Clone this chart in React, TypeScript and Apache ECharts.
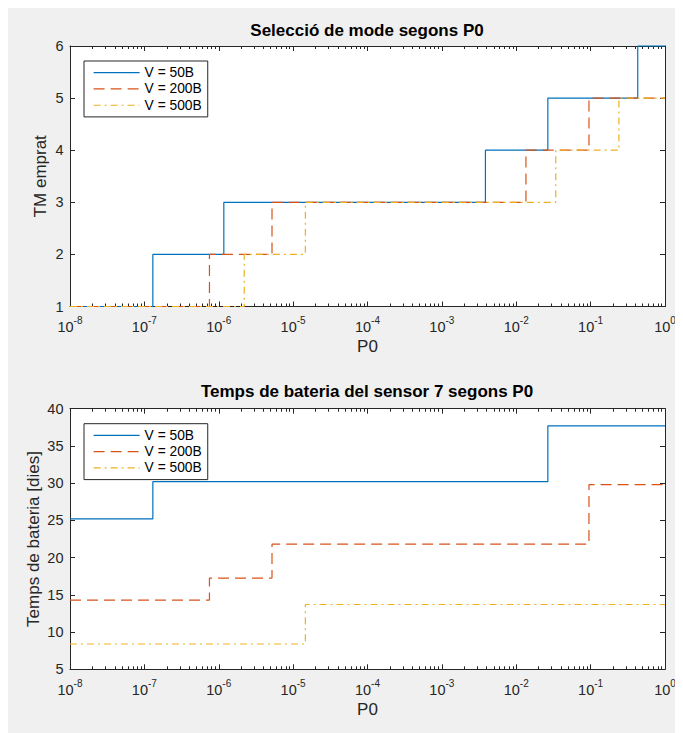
import React, { useEffect, useRef } from 'react';
import * as echarts from 'echarts';

// P0 range (log axis) and tick positions
const P0_MIN = 1e-8;
const P0_MAX = 1;
const decadeTicks = [1e-8, 1e-7, 1e-6, 1e-5, 1e-4, 1e-3, 1e-2, 1e-1, 1];
const minorMultipliers = [2, 3, 4, 5, 6, 7, 8, 9];

const legendNames = ['V = 50B', 'V = 200B', 'V = 500B'];
const lineColors = ['#0072BD', '#D95319', '#EDB120'];

// Mode selected (TM emprat) vs P0: P0 where each step happens, and the levels
const modeSteps50 = [1.3e-7, 1.17e-6, 3.85e-3, 0.0266, 0.43];
const modeLevels50 = [1, 2, 3, 4, 5, 6];
const modeSteps200 = [7.5e-7, 5.2e-6, 0.0135, 0.095];
const modeLevels200 = [1, 2, 3, 4, 5];
const modeSteps500 = [2.2e-6, 1.46e-5, 0.034, 0.24];
const modeLevels500 = [1, 2, 3, 4, 5];

// Battery lifetime of sensor 7 [days] vs P0
const batterySteps50 = [1.3e-7, 0.0266];
const batteryLevels50 = [25.2, 30.2, 37.7];
const batterySteps200 = [7.5e-7, 5.2e-6, 0.095];
const batteryLevels200 = [14.3, 17.25, 21.8, 29.8];
const batterySteps500 = [1.46e-5];
const batteryLevels500 = [8.4, 13.7];

const FONT = 'Liberation Sans, Arial, Helvetica, sans-serif';
const AXIS_COLOR = '#262626';

function stepPoints(steps: number[], levels: number[]): number[][] {
  const pts: number[][] = [[P0_MIN, levels[0]]];
  steps.forEach((s, i) => {
    pts.push([s, levels[i]]);
    pts.push([s, levels[i + 1]]);
  });
  pts.push([P0_MAX, levels[levels.length - 1]]);
  return pts;
}

const minorTicks: number[] = [];
decadeTicks.slice(0, -1).forEach((d) => {
  minorMultipliers.forEach((m) => minorTicks.push(m * d));
});

const lineStyles = [
  { type: 'solid' as const },
  { type: [11, 6] },
  { type: [7, 4, 2, 4] },
];

function seriesFor(grid: number, data: number[][][]) {
  return data.map((d, i) => ({
    type: 'line',
    name: legendNames[i],
    xAxisIndex: grid * 4,
    yAxisIndex: grid * 2,
    data: d,
    showSymbol: false,
    symbol: 'none',
    clip: false,
    lineStyle: { color: lineColors[i], width: 1.2, type: lineStyles[i].type },
    itemStyle: { color: lineColors[i] },
  }));
}

function xAxesFor(grid: number, name: string) {
  const base = {
    gridIndex: grid,
    type: 'log',
    logBase: 10,
    min: P0_MIN,
    max: P0_MAX,
    splitLine: { show: false },
  };
  return [
    {
      ...base,
      position: 'bottom',
      name,
      nameLocation: 'middle',
      nameGap: 31.5,
      nameMoveOverlap: false,
      nameTextStyle: { fontSize: 17, color: AXIS_COLOR, fontFamily: FONT },
      axisLine: { show: true, lineStyle: { color: AXIS_COLOR, width: 1 } },
      axisTick: { show: true, inside: true, length: 5, customValues: decadeTicks, lineStyle: { color: AXIS_COLOR } },
      axisLabel: {
        show: true,
        margin: 9,
        customValues: decadeTicks,
        formatter: (v: number) => `{b|10}{s|${Math.round(Math.log10(v))}}`,
        rich: {
          b: { fontSize: 14.5, lineHeight: 19, verticalAlign: 'bottom', color: AXIS_COLOR, fontFamily: FONT },
          s: { fontSize: 10, lineHeight: 10, verticalAlign: 'top', color: AXIS_COLOR, fontFamily: FONT },
        },
      },
    },
    {
      ...base,
      position: 'bottom',
      axisLine: { show: false },
      axisTick: { show: true, inside: true, length: 3, customValues: minorTicks, lineStyle: { color: AXIS_COLOR } },
      axisLabel: { show: false },
    },
    {
      ...base,
      position: 'top',
      axisLine: { show: true, lineStyle: { color: AXIS_COLOR, width: 1 } },
      axisTick: { show: true, inside: true, length: 5, customValues: decadeTicks, lineStyle: { color: AXIS_COLOR } },
      axisLabel: { show: false },
    },
    {
      ...base,
      position: 'top',
      axisLine: { show: false },
      axisTick: { show: true, inside: true, length: 3, customValues: minorTicks, lineStyle: { color: AXIS_COLOR } },
      axisLabel: { show: false },
    },
  ];
}

function yAxesFor(grid: number, name: string, min: number, max: number, interval: number, nameGap: number) {
  const base = {
    gridIndex: grid,
    type: 'value',
    min,
    max,
    interval,
    splitLine: { show: false },
    axisLine: { show: true, lineStyle: { color: AXIS_COLOR, width: 1 } },
    axisTick: { show: true, inside: true, length: 5, lineStyle: { color: AXIS_COLOR } },
  };
  return [
    {
      ...base,
      position: 'left',
      name,
      nameLocation: 'middle',
      nameGap,
      nameMoveOverlap: false,
      nameTextStyle: { fontSize: 17, color: AXIS_COLOR, fontFamily: FONT },
      axisLabel: { show: true, margin: 6.5, fontSize: 14.5, color: AXIS_COLOR, fontFamily: FONT },
    },
    {
      ...base,
      position: 'right',
      axisLabel: { show: false },
    },
  ];
}

function legendFor(top: number) {
  return {
    orient: 'vertical',
    left: 76,
    top,
    data: legendNames,
    itemWidth: 46,
    itemHeight: 10,
    itemGap: 0,
    padding: [3.5, 6, 3.5, 9],
    backgroundColor: '#ffffff',
    borderColor: AXIS_COLOR,
    borderWidth: 1,
    borderRadius: 0,
    selectedMode: false,
    itemStyle: { opacity: 0, borderWidth: 0 },
    lineStyle: { width: 1.2 },
    textStyle: { fontSize: 13.8, lineHeight: 16.3, color: '#000000', fontFamily: FONT },
  };
}

export default function App() {
  const ref = useRef<HTMLDivElement>(null);

  useEffect(() => {
    document.documentElement.style.overflow = 'hidden';
    const chart = echarts.init(ref.current!, null, { renderer: 'svg' });
    chart.setOption({
      animation: false,
      backgroundColor: '#f0f0f0',
      textStyle: { fontFamily: FONT },
      title: [
        {
          text: 'Selecció de mode segons P0',
          left: 359,
          top: 14,
          textAlign: 'center',
          padding: 0,
          textStyle: { fontSize: 17, fontWeight: 'bold', color: '#000000', fontFamily: FONT },
        },
        {
          text: 'Temps de bateria del sensor 7 segons P0',
          left: 359,
          top: 375,
          textAlign: 'center',
          padding: 0,
          textStyle: { fontSize: 17, fontWeight: 'bold', color: '#000000', fontFamily: FONT },
        },
      ],
      legend: [legendFor(53), legendFor(415.7)],
      grid: [
        { left: 62, top: 38, width: 595, height: 260.5, show: true, backgroundColor: '#ffffff', borderWidth: 0 },
        { left: 62, top: 400.7, width: 595, height: 260.6, show: true, backgroundColor: '#ffffff', borderWidth: 0 },
      ],
      xAxis: [...xAxesFor(0, 'P0'), ...xAxesFor(1, 'P0')],
      yAxis: [
        ...yAxesFor(0, 'TM emprat', 1, 6, 1, 21),
        ...yAxesFor(1, 'Temps de bateria [dies]', 5, 40, 5, 28),
      ],
      series: [
        ...seriesFor(0, [
          stepPoints(modeSteps50, modeLevels50),
          stepPoints(modeSteps200, modeLevels200),
          stepPoints(modeSteps500, modeLevels500),
        ]),
        ...seriesFor(1, [
          stepPoints(batterySteps50, batteryLevels50),
          stepPoints(batterySteps200, batteryLevels200),
          stepPoints(batterySteps500, batteryLevels500),
        ]),
      ],
    });
    return () => chart.dispose();
  }, []);

  return <div ref={ref} style={{ width: 675, height: 725, background: '#f0f0f0' }} />;
}
